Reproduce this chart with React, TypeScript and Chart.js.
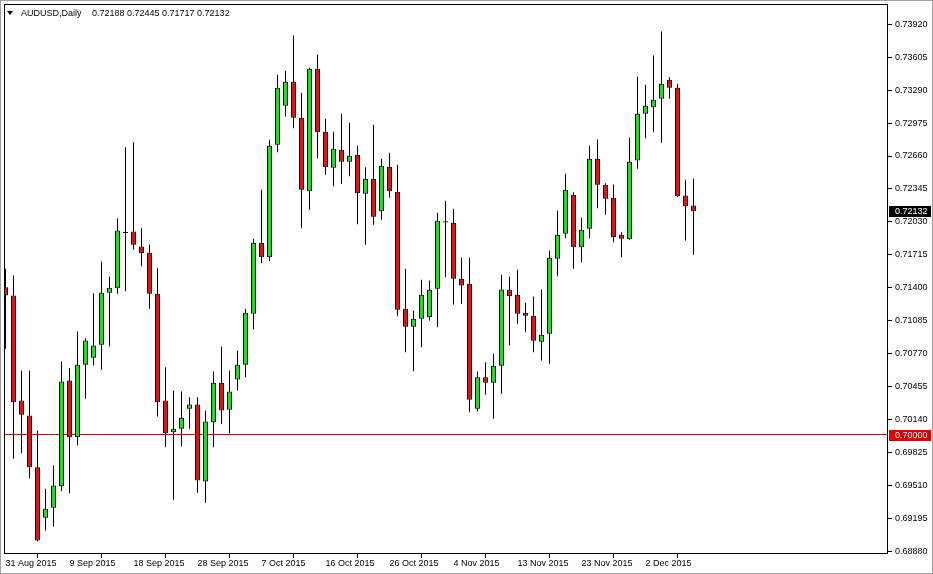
import { useEffect, useRef } from "react";
import { Chart, registerables } from "chart.js";

Chart.register(...registerables);

// ---- data (AUDUSD daily, one entry per bar, index 0 = 31 Aug 2015) ----
const opens = [
  0.71407, 0.71328, 0.70325, 0.70181, 0.69688, 0.69204, 0.693, 0.69506, 0.70516, 0.69974,
  0.70666, 0.70733, 0.70857, 0.71353, 0.71397, 0.71935, 0.71939, 0.71796, 0.71735, 0.71344,
  0.70325, 0.70022, 0.70054, 0.70245, 0.70287, 0.69551, 0.70117, 0.70494, 0.70236, 0.70525,
  0.70666, 0.71153, 0.71831, 0.71693, 0.72767, 0.73139, 0.73369, 0.73025, 0.72324, 0.73493,
  0.72891, 0.72547, 0.72719, 0.72605, 0.72671, 0.72299, 0.72442, 0.72133, 0.72557, 0.72318,
  0.71201, 0.71029, 0.71105, 0.7112, 0.71392, 0.72036, 0.72022, 0.71487, 0.71439, 0.70245,
  0.70547, 0.70494, 0.70656, 0.71382, 0.71334, 0.71162, 0.71134, 0.70885, 0.70962, 0.71678,
  0.71917, 0.72289, 0.71789, 0.71965, 0.72633, 0.72385, 0.72261, 0.71907, 0.71865, 0.72617,
  0.73063, 0.73126, 0.73206, 0.73388, 0.73311, 0.72283, 0.72188,
];
const highs = [
  0.71583, 0.71519, 0.70611, 0.70611, 0.70038, 0.69481, 0.69704, 0.70697, 0.70633, 0.70984,
  0.7092, 0.7135, 0.71652, 0.71509, 0.72066, 0.72744, 0.72792, 0.7197, 0.71815, 0.71588,
  0.70643, 0.7042, 0.70411, 0.70356, 0.70356, 0.70229, 0.70602, 0.7084, 0.70611, 0.70802,
  0.71201, 0.71869, 0.72337, 0.72815, 0.73435, 0.73474, 0.73811, 0.73264, 0.73502, 0.73629,
  0.73015, 0.72891, 0.73063, 0.72977, 0.72757, 0.72553, 0.72958, 0.72633, 0.72691, 0.72576,
  0.71583, 0.71184, 0.71478, 0.71471, 0.72117, 0.72232, 0.72156, 0.71688, 0.71688, 0.70602,
  0.70691, 0.70771, 0.71525, 0.71509, 0.71573, 0.71258, 0.71318, 0.71385, 0.71757, 0.72139,
  0.7249, 0.72314, 0.7207, 0.72757, 0.72818, 0.724, 0.72388, 0.71932, 0.72834, 0.73419,
  0.7334, 0.7362, 0.73849, 0.73413, 0.7335, 0.72433, 0.72445,
];
const lows = [
  0.70819, 0.69768, 0.69821, 0.69583, 0.68981, 0.69083, 0.69121, 0.69458, 0.69439, 0.69895,
  0.70341, 0.70659, 0.70618, 0.7084, 0.71344, 0.71369, 0.71764, 0.71607, 0.71201, 0.70172,
  0.69879, 0.69376, 0.69888, 0.70054, 0.69443, 0.69348, 0.69879, 0.70102, 0.70012, 0.7042,
  0.70547, 0.71003, 0.71636, 0.71655, 0.72696, 0.73037, 0.72926, 0.7197, 0.72146, 0.72639,
  0.7248, 0.72372, 0.72394, 0.72467, 0.72009, 0.71812, 0.72003, 0.72051, 0.72261, 0.7113,
  0.70786, 0.70605, 0.70834, 0.71089, 0.71025, 0.71502, 0.71242, 0.71248, 0.70213, 0.7022,
  0.70379, 0.7015, 0.70389, 0.7085, 0.71057, 0.70977, 0.70786, 0.70707, 0.70675, 0.71512,
  0.71875, 0.71583, 0.71646, 0.71875, 0.72161, 0.72098, 0.71837, 0.71693, 0.7186, 0.72538,
  0.7283, 0.72887, 0.72786, 0.73206, 0.72266, 0.71853, 0.71717,
];
const closes = [
  0.71328, 0.70309, 0.70188, 0.69688, 0.68988, 0.6929, 0.69513, 0.70506, 0.69974, 0.70666,
  0.70898, 0.7085, 0.71353, 0.71401, 0.71948, 0.71925, 0.71812, 0.71732, 0.71344, 0.70309,
  0.70012, 0.70054, 0.7016, 0.70287, 0.69561, 0.70124, 0.70494, 0.70229, 0.70411, 0.70666,
  0.71162, 0.71831, 0.71693, 0.72757, 0.73311, 0.73369, 0.73025, 0.72337, 0.73493, 0.72887,
  0.72553, 0.72729, 0.72605, 0.72662, 0.72305, 0.72442, 0.72079, 0.72566, 0.72324, 0.71191,
  0.71029, 0.71105, 0.71334, 0.71382, 0.72041, 0.72026, 0.71487, 0.71423, 0.70331, 0.70547,
  0.70494, 0.70656, 0.71385, 0.71321, 0.71153, 0.71134, 0.70895, 0.70952, 0.71688, 0.71907,
  0.72337, 0.71789, 0.71955, 0.72633, 0.72385, 0.72251, 0.71884, 0.71869, 0.72605, 0.73063,
  0.73139, 0.73197, 0.7335, 0.73311, 0.72276, 0.72181, 0.72132,
];

const xTickIndex = [0, 8, 16, 24, 32, 40, 48, 56, 64, 72, 80];
const xTickLabels = [
  "31 Aug 2015", "9 Sep 2015", "18 Sep 2015", "28 Sep 2015", "7 Oct 2015", "16 Oct 2015",
  "26 Oct 2015", "4 Nov 2015", "13 Nov 2015", "23 Nov 2015", "2 Dec 2015",
];
const yTickValues = [
  0.7392, 0.73605, 0.7329, 0.72975, 0.7266, 0.72345, 0.7203, 0.71715, 0.714, 0.71085,
  0.7077, 0.70455, 0.7014, 0.69825, 0.6951, 0.69195, 0.6888,
];
const levelValue = 0.7;
const symbolTitle = "AUDUSD,Daily";

// ---- view / style ----
const X_MIN = -0.1875;
const X_MAX = X_MIN + 884 / 8;
const Y_MAX = 0.741118;
const Y_MIN = Y_MAX - 550 / 10470;
const FONT = '"Liberation Sans", Arial, sans-serif';
const BULL = "#1ee01e";
const BEAR = "#dc1414";

const decorPlugin = {
  id: "decor",
  beforeDraw(chart: any) {
    const ctx = chart.ctx;
    ctx.save();
    ctx.fillStyle = "#ffffff";
    ctx.fillRect(0, 0, chart.width, chart.height);
    ctx.restore();
  },
  afterDraw(chart: any) {
    const ctx = chart.ctx;
    const a = chart.chartArea;
    const ys = chart.scales.y;
    ctx.save();
    // outer window frame
    ctx.strokeStyle = "#a0a0a0";
    ctx.lineWidth = 1;
    ctx.strokeRect(0.5, 0.5, chart.width - 1, chart.height - 1);
    // plot frame
    ctx.strokeStyle = "#000";
    ctx.strokeRect(a.left + 0.5, a.top + 0.5, a.right - a.left - 1, a.bottom - a.top - 1);
    // title
    const n = closes.length - 1;
    ctx.fillStyle = "#000";
    ctx.beginPath();
    ctx.moveTo(7, 11);
    ctx.lineTo(13, 11);
    ctx.lineTo(10, 15);
    ctx.closePath();
    ctx.fill();
    ctx.font = `9px ${FONT}`;
    ctx.textBaseline = "middle";
    ctx.textAlign = "left";
    ctx.fillText(symbolTitle, 21, 13.5);
    ctx.fillText(
      [opens[n], highs[n], lows[n], closes[n]].map((v) => v.toFixed(5)).join(" "),
      92,
      13.5
    );
    // price boxes on the axis
    const box = (v: number, bg: string) => {
      const py = ys.getPixelForValue(v);
      ctx.fillStyle = bg;
      ctx.fillRect(a.right + 1, Math.round(py) - 5, 42, 11);
      ctx.fillStyle = "#fff";
      ctx.fillText(v.toFixed(5), a.right + 7, Math.round(py) + 0.5);
    };
    box(levelValue, "#e00000");
    box(closes[n], "#000000");
    ctx.restore();
  },
};

export default function App() {
  const ref = useRef<HTMLCanvasElement | null>(null);

  useEffect(() => {
    if (!ref.current) return;
    const colors = opens.map((o, i) => (closes[i] >= o ? BULL : BEAR));
    const chart = new Chart(ref.current, {
      type: "bar",
      data: {
        datasets: [
          {
            type: "line",
            label: "level",
            data: [
              { x: X_MIN, y: levelValue },
              { x: X_MAX, y: levelValue },
            ],
            borderColor: "#d80000",
            borderWidth: 1,
            pointRadius: 0,
            order: 3,
          } as any,
          {
            type: "bar",
            label: "wick",
            data: opens.map((_, i) => ({ x: i, y: [lows[i], highs[i]] })),
            backgroundColor: "#000",
            borderWidth: 0,
            barThickness: 1,
            grouped: false,
            inflateAmount: 0,
            order: 2,
          } as any,
          {
            type: "bar",
            label: "body",
            data: opens.map((o, i) => ({ x: i, y: [o, closes[i]] })),
            backgroundColor: colors,
            borderColor: "#000",
            borderWidth: 1,
            borderSkipped: false,
            barThickness: 5,
            grouped: false,
            inflateAmount: 0,
            order: 1,
          } as any,
        ],
      },
      options: {
        animation: false,
        responsive: false,
        devicePixelRatio: 1,
        layout: { padding: { left: 4, top: 4, right: 0, bottom: 0 } },
        plugins: { legend: { display: false }, tooltip: { enabled: false }, title: { display: false } },
        scales: {
          x: {
            type: "linear",
            min: X_MIN,
            max: X_MAX,
            offset: false,
            grid: { display: true, drawOnChartArea: false, drawTicks: true, tickLength: 4, color: "#000", lineWidth: 1 },
            border: { display: false },
            ticks: {
              autoSkip: false,
              maxRotation: 0,
              minRotation: 0,
              align: "start",
              padding: 0,
              color: "#000",
              font: { family: FONT, size: 9 },
              callback: (v: any) => {
                const k = xTickIndex.indexOf(Number(v));
                return k >= 0 ? xTickLabels[k] : "";
              },
            },
            afterBuildTicks: (s: any) => {
              s.ticks = xTickIndex.map((v) => ({ value: v }));
            },
            afterFit: (s: any) => {
              s.height = 20;
              s.paddingLeft = 0;
              s.paddingRight = 0;
            },
          },
          y: {
            position: "right",
            min: Y_MIN,
            max: Y_MAX,
            grid: { display: true, drawOnChartArea: false, drawTicks: true, tickLength: 4, color: "#000", lineWidth: 1 },
            border: { display: false },
            ticks: {
              autoSkip: false,
              padding: 3,
              color: "#000",
              font: { family: FONT, size: 9 },
              callback: (v: any) => Number(v).toFixed(5),
            },
            afterBuildTicks: (s: any) => {
              s.ticks = yTickValues.map((v) => ({ value: v }));
            },
            afterFit: (s: any) => {
              s.width = 45;
              s.paddingTop = 0;
              s.paddingBottom = 0;
            },
          },
        },
      } as any,
      plugins: [decorPlugin],
    });
    return () => chart.destroy();
  }, []);

  return (
    <div style={{ position: "absolute", left: 0, top: 0, width: 933, height: 574, background: "#fff" }}>
      <canvas ref={ref} width={933} height={574} style={{ display: "block", width: 933, height: 574 }} />
    </div>
  );
}
